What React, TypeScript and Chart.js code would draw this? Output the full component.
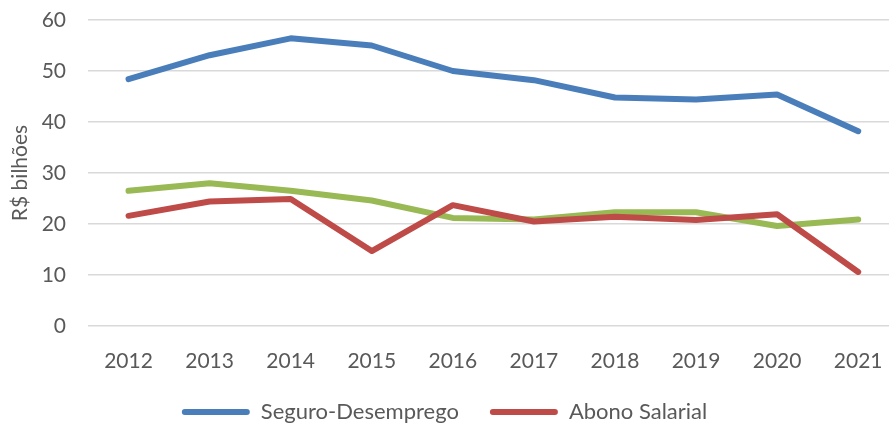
import React, { useEffect, useRef } from "react";
import { Chart, registerables } from "chart.js";

Chart.register(...registerables);

const years = [2012, 2013, 2014, 2015, 2016, 2017, 2018, 2019, 2020, 2021];
const seguroDesemprego = [48.4, 53.1, 56.4, 55.0, 50.0, 48.2, 44.8, 44.4, 45.4, 38.2];
const abonoSalarial = [21.6, 24.4, 24.9, 14.7, 23.7, 20.5, 21.4, 20.8, 21.9, 10.6];
const terceiraSerie = [26.5, 28.0, 26.5, 24.6, 21.2, 20.9, 22.3, 22.3, 19.6, 20.9];
const yTicks = [0, 10, 20, 30, 40, 50, 60];

const FONT = "Lato, 'Noto Sans', sans-serif";
const TEXT = "#595959";

export default function App() {
  const ref = useRef<HTMLCanvasElement>(null);
  useEffect(() => {
    document.body.style.margin = "0";
    const toPts = (arr: number[]) => years.map((x, i) => ({ x, y: arr[i] }));
    const line = (label: string, arr: number[], color: string) => ({
      label,
      data: toPts(arr),
      borderColor: color,
      backgroundColor: color,
      borderWidth: 6,
      pointRadius: 0,
      tension: 0,
      borderCapStyle: "round" as const,
      borderJoinStyle: "round" as const,
    });
    const chart = new Chart(ref.current!, {
      type: "line",
      data: {
        datasets: [
          line("Seguro-Desemprego", seguroDesemprego, "#4a7ebb"),
          line("Abono Salarial", abonoSalarial, "#be4b48"),
          line("Outros", terceiraSerie, "#98b954"),
        ],
      },
      options: {
        animation: false,
        responsive: false,
        maintainAspectRatio: false,
        layout: { padding: { top: 20, right: 0, bottom: -7, left: 0 } },
        plugins: {
          tooltip: { enabled: false },
          legend: {
            position: "bottom",
            labels: {
              font: { family: FONT, size: 22 },
              color: TEXT,
              boxWidth: 68,
              boxHeight: 6,
              padding: 31,
              useBorderRadius: true,
              borderRadius: 3,
              filter: (item: any) => item.datasetIndex !== 2,
              generateLabels: (chart: any) =>
                chart.data.datasets.map((ds: any, i: number) => ({
                  text: ds.label,
                  fillStyle: ds.borderColor,
                  strokeStyle: ds.borderColor,
                  lineWidth: 0,
                  hidden: false,
                  datasetIndex: i,
                  fontColor: TEXT,
                  borderRadius: 3,
                })),
            },
          },
        },
        scales: {
          x: {
            type: "linear",
            min: 2011.5,
            max: 2021.38,
            grid: { display: false, drawTicks: false },
            border: { display: false },
            afterBuildTicks: (scale: any) => {
              scale.ticks = years.map((v) => ({ value: v }));
            },
            afterFit: (scale: any) => {
              scale.height = 44;
              scale.paddingLeft = 0;
              scale.paddingRight = 0;
            },
            ticks: {
              font: { family: FONT, size: 21 },
              color: TEXT,
              padding: 23,
              autoSkip: false,
              maxRotation: 0,
              callback: (v: any) => String(v),
            },
          },
          y: {
            min: 0,
            max: 60,
            afterBuildTicks: (scale: any) => {
              scale.ticks = yTicks.map((v) => ({ value: v }));
            },
            afterFit: (scale: any) => {
              scale.width = 88;
              scale.paddingTop = 0;
              scale.paddingBottom = 0;
            },
            grid: { color: "#d9d9d9", lineWidth: 1.5, drawTicks: false },
            border: { display: false },
            ticks: {
              font: { family: FONT, size: 21 },
              color: TEXT,
              padding: 22,
            },
            title: {
              display: true,
              text: "R$ bilhões",
              font: { family: FONT, size: 21 },
              color: TEXT,
              padding: { top: 8, bottom: 0 },
            },
          },
        },
      },
    });
    return () => chart.destroy();
  }, []);
  return (
    <div style={{ width: 889, height: 426, position: "relative" }}>
      <canvas ref={ref} width={889} height={426} style={{ display: "block" }} />
    </div>
  );
}
